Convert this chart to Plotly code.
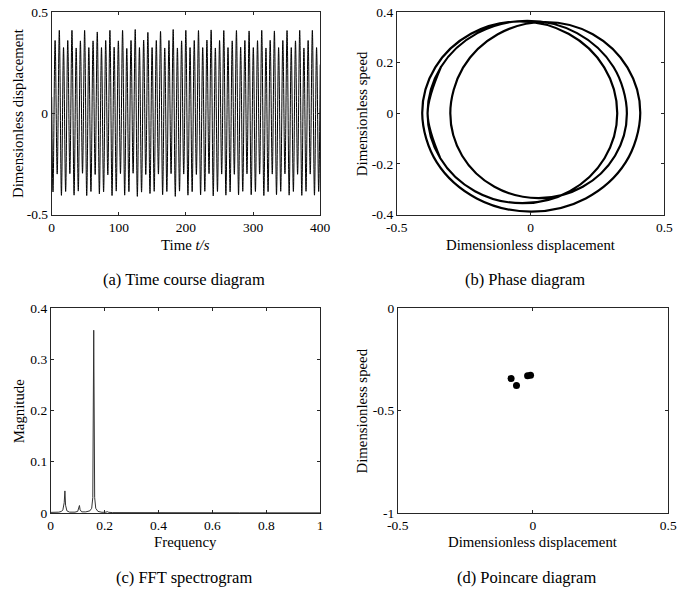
import numpy as np
import plotly.graph_objects as go

FONT = "Liberation Serif, Times New Roman, serif"
INK = "#262626"
W, H = 685, 595

# (a) time course: successive extremes of the displacement
T_FIRST, T_LAST = 1.9, 397.7
X_START, X_END = 0.08, 0.24
X_EXTREMES = [
    -0.388, 0.359, -0.300, 0.409, -0.405, 0.324,
    -0.386, 0.359, -0.298, 0.409, -0.404, 0.322,
    -0.384, 0.357, -0.296, 0.409, -0.406, 0.324,
    -0.386, 0.357, -0.302, 0.401, -0.398, 0.324,
    -0.388, 0.359, -0.304, 0.409, -0.406, 0.326,
    -0.384, 0.357, -0.298, 0.409, -0.404, 0.320,
    -0.387, 0.359, -0.296, 0.413, -0.410, 0.324,
    -0.389, 0.361, -0.302, 0.399, -0.396, 0.324,
    -0.385, 0.359, -0.300, 0.404, -0.402, 0.322,
    -0.386, 0.359, -0.298, 0.413, -0.410, 0.322,
    -0.384, 0.357, -0.300, 0.409, -0.404, 0.324,
    -0.387, 0.359, -0.302, 0.408, -0.403, 0.324,
    -0.385, 0.361, -0.298, 0.411, -0.408, 0.322,
    -0.386, 0.359, -0.300, 0.408, -0.404, 0.324,
    -0.388, 0.357, -0.301, 0.408, -0.403, 0.326,
    -0.385, 0.359, -0.299, 0.406, -0.402, 0.324,
    -0.386, 0.358, -0.300, 0.409, -0.406, 0.322,
    -0.387, 0.360, -0.300, 0.406, -0.402, 0.324,
    -0.385, 0.359, -0.299, 0.408, -0.404, 0.324,
    -0.386, 0.357, -0.301, 0.409, -0.405, 0.322,
    -0.385, 0.359, -0.300, 0.409, -0.404, 0.324,
    -0.386,
]

# (b) phase portrait: one pass round the period-3 orbit (displacement, speed)
PHASE_X = [-0.3375,
           -0.385, -0.3351, -0.1988, -0.0125, 0.1738, 0.3101,
           0.36, 0.3158, 0.195, 0.03, -0.135, -0.2558,
           -0.30, -0.2524, -0.1225, 0.055, 0.2325, 0.3624,
           0.41, 0.3554, 0.2063, 0.0025, -0.2013, -0.3504,
           -0.405, -0.3562, -0.2228, -0.0405, 0.1418, 0.2752,
           0.324, 0.2765, 0.1468, -0.0305, -0.2078, -0.3375,
           -0.385, -0.3351]
PHASE_V = [-0.1775,
           0.0, 0.1825, 0.3161, 0.365, 0.3161, 0.1825,
           0.0, -0.1675, -0.2901, -0.335, -0.2901, -0.1675,
           0.0, 0.18, 0.3118, 0.36, 0.3118, 0.18,
           0.0, -0.194, -0.336, -0.388, -0.336, -0.194,
           0.0, 0.181, 0.3135, 0.362, 0.3135, 0.181,
           0.0, -0.1775, -0.3074, -0.355, -0.3074, -0.1775,
           0.0, 0.1825]

# (c) FFT spectrum
FREQ = [0, 0.01, 0.02, 0.03, 0.04, 0.045, 0.05, 0.0525, 0.055, 0.06, 0.07,
        0.08, 0.09, 0.1, 0.104, 0.1065, 0.109, 0.115, 0.13, 0.145, 0.152,
        0.156, 0.1595, 0.163, 0.167, 0.175, 0.19, 0.2, 0.205, 0.21, 0.215,
        0.23, 0.3, 0.5, 0.7, 1.0]
MAG = [0.001, 0.0008, 0.001, 0.0015, 0.003, 0.006, 0.02, 0.043, 0.015, 0.004,
       0.0015, 0.001, 0.0015, 0.003, 0.008, 0.0145, 0.006, 0.002, 0.002, 0.004,
       0.009, 0.03, 0.357, 0.03, 0.009, 0.003, 0.0012, 0.001, 0.0015, 0.0025,
       0.0012, 0.0006, 0.0004, 0.0003, 0.0002, 0.0001]

# (d) Poincare section
POINC_X = [-0.081, -0.061, -0.020, -0.009]
POINC_Y = [-0.343, -0.377, -0.330, -0.327]

t = np.concatenate([[0.0], np.linspace(T_FIRST, T_LAST, len(X_EXTREMES)), [400.0]])
x = [X_START] + X_EXTREMES + [X_END]


def px(v):
    return v / W


def py(v):
    return 1 - v / H


def axis(left, right, top, bottom, rng, vals, anchor, horizontal):
    dom = [px(left), px(right)] if horizontal else [py(bottom), py(top)]
    return dict(domain=dom, range=rng, tickvals=vals, ticktext=["%g" % v for v in vals],
                ticks="inside", ticklen=3, tickcolor=INK, mirror="allticks",
                showline=True, linecolor=INK, linewidth=0.8, showgrid=False,
                zeroline=False, anchor=anchor, ticklabeloverflow="allow",
                tickfont=dict(family=FONT, size=13.5, color="black"))


fig = go.Figure()
fig.add_trace(go.Scatter(x=t, y=x, mode="lines", line=dict(color="black", width=1, shape="spline"),
                         xaxis="x", yaxis="y"))
fig.add_trace(go.Scatter(x=PHASE_X, y=PHASE_V, mode="lines",
                         line=dict(color="black", width=2.2, shape="spline"),
                         xaxis="x2", yaxis="y2"))
fig.add_trace(go.Scatter(x=FREQ, y=MAG, mode="lines", line=dict(color="#333333", width=1),
                         xaxis="x3", yaxis="y3"))
fig.add_trace(go.Scatter(x=POINC_X, y=POINC_Y, mode="markers",
                         marker=dict(color="black", size=7), xaxis="x4", yaxis="y4"))

fig.update_layout(
    width=W, height=H, margin=dict(l=0, r=0, t=0, b=0),
    paper_bgcolor="white", plot_bgcolor="white", showlegend=False,
    font=dict(family=FONT, color="black"),
    xaxis=axis(42, 319, 0, 0, [0, 400], [0, 100, 200, 300, 400], "y", True),
    yaxis=axis(0, 0, 5, 213, [-0.5, 0.5], [-0.5, 0, 0.5], "x", False),
    xaxis2=axis(398, 674, 0, 0, [-0.5, 0.5], [-0.5, 0, 0.5], "y2", True),
    yaxis2=axis(0, 0, 5, 213, [-0.4, 0.4], [-0.4, -0.2, 0, 0.2, 0.4], "x2", False),
    xaxis3=axis(41, 319, 0, 0, [0, 1], [0, 0.2, 0.4, 0.6, 0.8, 1], "y3", True),
    yaxis3=axis(0, 0, 309, 519, [0, 0.4], [0, 0.1, 0.2, 0.3, 0.4], "x3", False),
    xaxis4=axis(399, 678, 0, 0, [-0.5, 0.5], [-0.5, 0, 0.5], "y4", True),
    yaxis4=axis(0, 0, 309, 519, [-1, 0], [-1, -0.5, 0], "x4", False),
)

labels = [
    ("Dimensionless displacement", 7, 109, -90),
    ("Time <i>t/s</i>", 180, 244, 0),
    ("(a) Time course diagram", 178, 280, 0),
    ("Dimensionless speed", 362, 109, -90),
    ("Dimensionless displacement", 536, 244, 0),
    ("(b) Phase diagram", 530, 280, 0),
    ("Magnitude", 8, 414, -90),
    ("Frequency", 180, 549, 0),
    ("(c) FFT spectrogram", 178, 585, 0),
    ("Dimensionless speed", 362, 414, -90),
    ("Dimensionless displacement", 538, 549, 0),
    ("(d) Poincare diagram", 532, 585, 0),
]
for text, lx, ly, ang in labels:
    size = 16.5 if text.startswith("(") else 14.8
    fig.add_annotation(text=text, x=px(lx), y=py(ly), xref="paper", yref="paper",
                       showarrow=False, textangle=ang, xanchor="center", yanchor="middle",
                       font=dict(family=FONT, size=size, color="black"))

# the page would otherwise sit 8px in from the window corner
fig.write_html("out.html", config={"displayModeBar": False},
               post_script="document.body.style.margin = '0';")
